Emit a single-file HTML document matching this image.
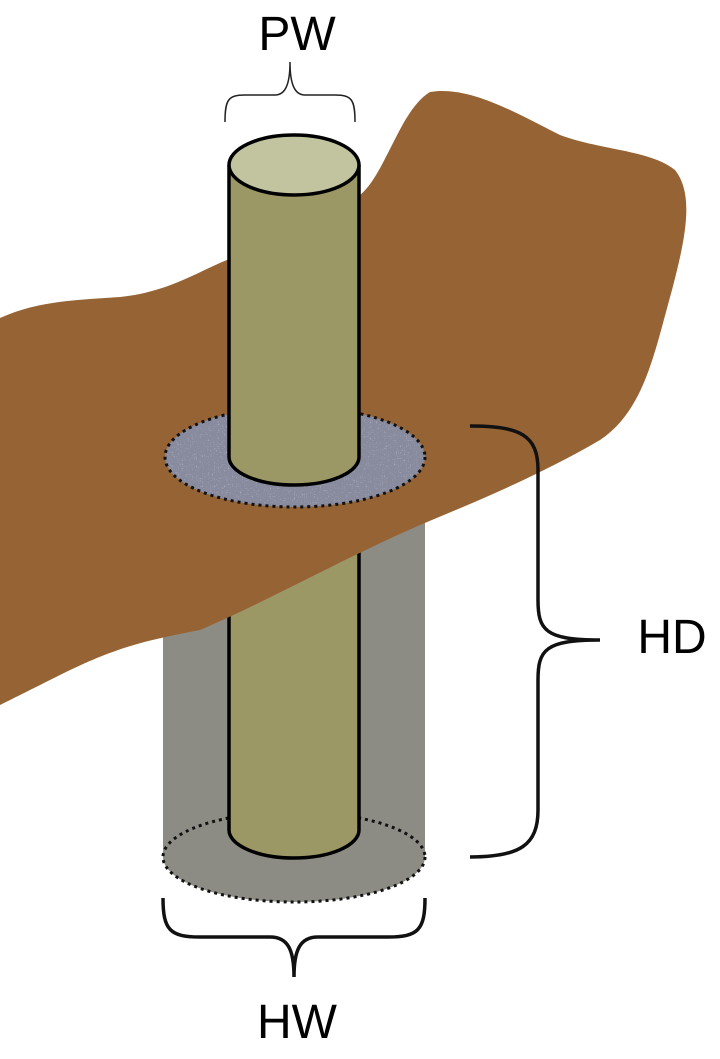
<!DOCTYPE html>
<html><head><style>body{margin:0;background:#fff}svg{display:block}</style></head>
<body>
<svg width="720" height="1059" viewBox="0 0 720 1059" xmlns="http://www.w3.org/2000/svg">
<defs>
<filter id="n"><feTurbulence baseFrequency="0.5" numOctaves="2" seed="3"/><feColorMatrix values="0 0 0 0 0.7 0 0 0 0 0.72 0 0 0 0 0.8 0 0 0 1.4 -0.5"/><feComposite in2="SourceGraphic" operator="in"/></filter>
</defs>
<rect x="163" y="520" width="262" height="337" fill="#8c8c84"/>
<ellipse cx="294" cy="857" rx="131" ry="45" fill="#8c8c84" stroke="#111" stroke-width="3" stroke-dasharray="3 4"/>
<path d="M229 540 L229 830 A65 28 0 0 0 359 830 L359 540" fill="#9c9866" stroke="#000" stroke-width="3.5"/>
<path d="M0 318 C40 300 80 300 120 297 C170 292 200 270 232 258 L360 195 C385 175 400 110 430 92 C470 85 520 115 560 135 C600 150 650 150 675 170 C695 195 685 240 672 290 C655 350 645 410 600 440 C540 475 480 500 420 525 C340 560 270 600 200 630 C150 640 120 645 60 675 C30 690 10 700 0 705 Z" fill="#966434"/>
<ellipse cx="295" cy="457" rx="130" ry="50" fill="#888a9e" stroke="#111" stroke-width="3" stroke-dasharray="3 4"/>
<ellipse cx="295" cy="457" rx="128" ry="48" fill="#888a9e" filter="url(#n)" opacity="0.7"/>
<path d="M229 165 L229 457 A65 28 0 0 0 359 457 L359 165" fill="#9c9866" stroke="#000" stroke-width="3.5"/>
<ellipse cx="294" cy="165" rx="65" ry="30" fill="#c2c4a0" stroke="#000" stroke-width="3.5"/>
<path d="M225 122 C225 100 228 95 245 95 L275 95 C285 95 290 85 290 62 C290 85 295 95 305 95 L335 95 C352 95 355 100 355 122" fill="none" stroke="#222" stroke-width="1.5"/>
<text x="297" y="50" font-family="Liberation Sans, sans-serif" font-size="48" text-anchor="middle">PW</text>
<path d="M470 426 C520 426 538 435 538 470 L538 600 C538 630 545 640 600 640 C545 640 538 650 538 680 L538 810 C538 845 520 857 470 857" fill="none" stroke="#111" stroke-width="3.5"/>
<text x="672" y="653" font-family="Liberation Sans, sans-serif" font-size="48" text-anchor="middle">HD</text>
<path d="M163 898 C163 930 170 937 200 937 L270 937 C288 937 294 950 294 977 C294 950 300 937 318 937 L388 937 C418 937 425 930 425 898" fill="none" stroke="#111" stroke-width="3.5"/>
<text x="297" y="1038" font-family="Liberation Sans, sans-serif" font-size="48" text-anchor="middle">HW</text>
</svg>
</body></html>
